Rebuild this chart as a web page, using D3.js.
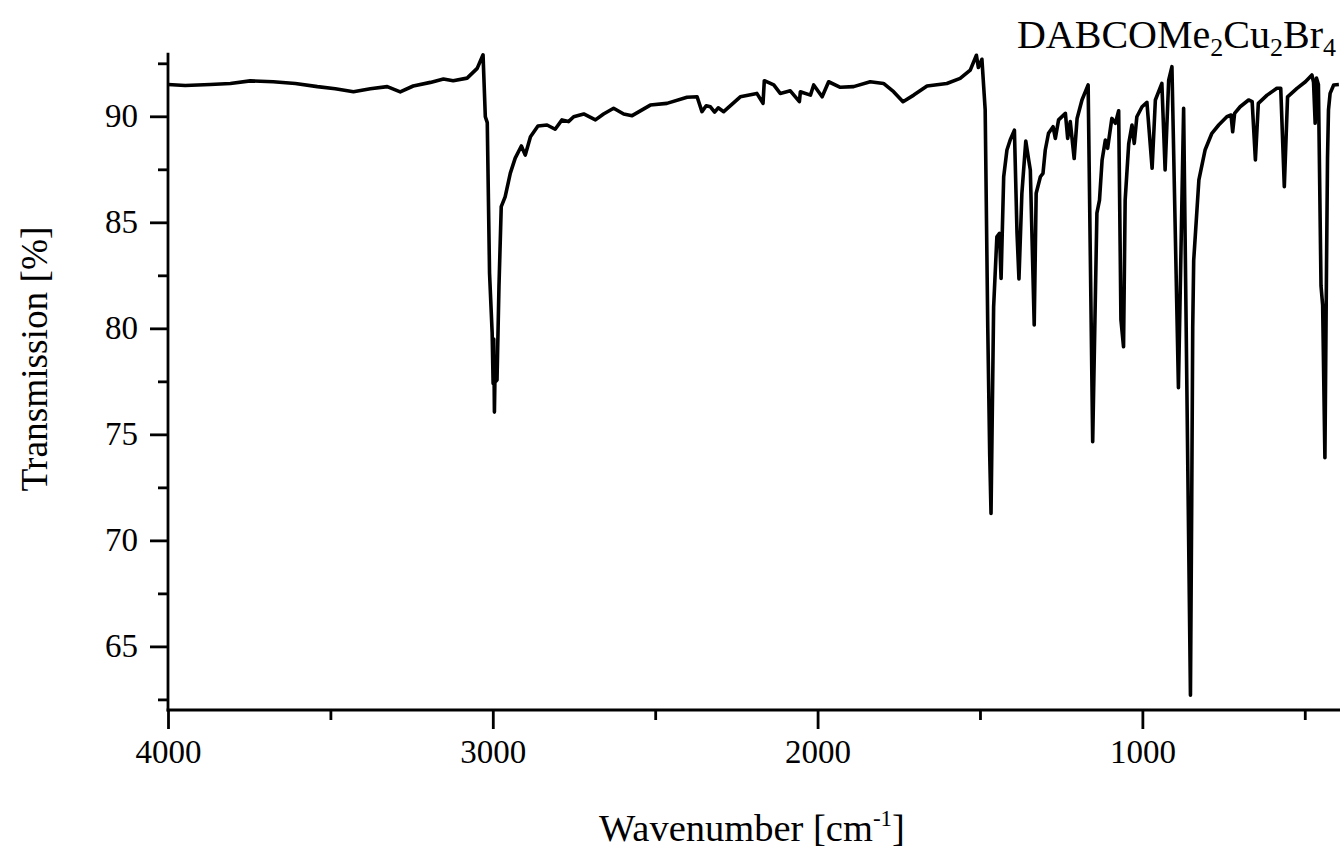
<!DOCTYPE html>
<html>
<head>
<meta charset="utf-8">
<script src="https://cdn.jsdelivr.net/npm/d3@7"></script>
<style>
  body { margin: 0; background: #fff; }
  svg { display: block; }
  text { font-family: "Liberation Serif", "Times New Roman", serif; fill: #000; }
</style>
</head>
<body>
<svg id="chart" width="1340" height="848"></svg>
<script>
// IR spectrum (wavenumber in cm-1, transmission in %)
const wavenumber = [
  4000, 3947, 3870, 3808, 3747, 3676, 3608, 3540, 3485, 3429, 3377, 3325, 3285, 3245,
  3192, 3152, 3122, 3079, 3048, 3030, 3023, 3017, 3010, 3002, 2999, 2997, 2995, 2993,
  2991, 2987, 2981, 2974, 2962, 2946, 2931, 2912, 2900, 2884, 2861, 2833, 2808, 2787,
  2767, 2751, 2720, 2684, 2659, 2628, 2597, 2571, 2515, 2464, 2402, 2371, 2356, 2343,
  2330, 2317, 2306, 2289, 2238, 2187, 2168, 2164, 2135, 2115, 2084, 2056, 2053, 2022,
  2012, 1986, 1966, 1930, 1889, 1838, 1797, 1766, 1737, 1704, 1663, 1602, 1561, 1530,
  1511, 1505, 1494, 1484, 1476, 1470, 1466, 1458, 1448, 1440, 1435, 1427, 1417, 1407,
  1394, 1386, 1380, 1371, 1359, 1350, 1345, 1333, 1327, 1314, 1306, 1299, 1289, 1275,
  1268, 1258, 1237, 1230, 1222, 1210, 1201, 1186, 1167, 1153, 1140, 1132, 1124, 1114,
  1107, 1094, 1083, 1073, 1066, 1058, 1053, 1042, 1032, 1025, 1017, 1001, 986, 970,
  960, 940, 930, 919, 909, 889, 873, 852, 848, 845, 842, 832, 826, 807, 786, 765,
  740, 727, 722, 716, 699, 673, 662, 652, 643, 616, 586, 574, 563, 553, 524, 498,
  478, 473, 468, 464, 458, 450, 445, 438, 433, 430, 427, 422, 411, 395
];
const transmission = [
  91.50, 91.45, 91.50, 91.55, 91.67, 91.63, 91.55, 91.40, 91.30, 91.16, 91.30, 91.40, 91.15, 91.43,
  91.60, 91.76, 91.68, 91.80, 92.26, 92.90, 89.98, 89.70, 82.60, 79.80, 77.40, 79.50, 76.05, 78.00,
  77.50, 77.56, 81.96, 85.74, 86.20, 87.32, 88.03, 88.60, 88.17, 89.04, 89.54, 89.59, 89.39, 89.83,
  89.75, 89.98, 90.11, 89.83, 90.11, 90.38, 90.11, 90.03, 90.53, 90.61, 90.90, 90.92, 90.22, 90.50,
  90.45, 90.20, 90.40, 90.22, 90.92, 91.08, 90.61, 91.68, 91.48, 91.08, 91.20, 90.69, 91.16, 91.00,
  91.48, 90.92, 91.63, 91.37, 91.40, 91.63, 91.55, 91.16, 90.69, 91.00, 91.43, 91.55, 91.79, 92.18,
  92.88, 92.30, 92.69, 90.30, 80.00, 74.00, 71.27, 81.00, 84.32, 84.48, 82.35, 87.15, 88.41, 88.88,
  89.35, 84.50, 82.33, 86.37, 88.83, 87.94, 87.47, 80.16, 86.37, 87.15, 87.31, 88.41, 89.20, 89.51,
  88.96, 89.83, 90.14, 88.96, 89.75, 88.01, 89.90, 90.77, 91.48, 74.65, 85.43, 86.05, 87.94, 88.88,
  88.49, 89.90, 89.67, 90.26, 80.40, 79.13, 86.05, 88.72, 89.59, 88.72, 89.98, 90.45, 90.66, 87.55,
  90.77, 91.55, 87.47, 91.71, 92.34, 77.20, 90.38, 62.70, 72.00, 80.00, 83.20, 85.57, 87.00, 88.41, 89.20, 89.59,
  89.98, 90.06, 89.27, 90.14, 90.45, 90.77, 90.69, 87.94, 90.61, 91.00, 91.32, 91.32, 86.68, 90.92, 91.32, 91.63,
  91.95, 91.60, 89.67, 91.80, 91.50, 82.00, 81.10, 73.90, 83.00, 88.00, 90.30, 91.08, 91.48, 91.50
];
const xMajorTicks = [4000, 3000, 2000, 1000];
const xMinorTicks = [3500, 2500, 1500, 500];
const yMajorTicks = [65, 70, 75, 80, 85, 90];
const yMinorTicks = [62.5, 67.5, 72.5, 77.5, 82.5, 87.5, 92.5];

const spectrum = wavenumber.map((w, i) => ({ w: w, t: transmission[i] }));

const svg = d3.select("#chart");
const mLeft = 168, mRight = 1340.5, mTop = 52.7, mBottom = 710;

const x = d3.scaleLinear().domain([4000, 390]).range([mLeft, mRight]);
const y = d3.scaleLinear().domain([62, 93]).range([mBottom, mTop]);

// minor ticks first, then major ticks with labels
svg.append("g")
  .attr("transform", `translate(0,${mBottom})`)
  .call(d3.axisBottom(x).tickValues(xMinorTicks).tickSize(10).tickFormat(""))
  .call(g => g.select(".domain").remove());
svg.append("g")
  .attr("transform", `translate(${mLeft},0)`)
  .call(d3.axisLeft(y).tickValues(yMinorTicks).tickSize(10).tickFormat(""))
  .call(g => g.select(".domain").remove());

const xAxis = svg.append("g")
  .attr("transform", `translate(0,${mBottom})`)
  .call(d3.axisBottom(x).tickValues(xMajorTicks).tickSize(19).tickPadding(11).tickFormat(d3.format("d")));
xAxis.select(".domain").remove();

const yAxis = svg.append("g")
  .attr("transform", `translate(${mLeft},0)`)
  .call(d3.axisLeft(y).tickValues(yMajorTicks).tickSize(18).tickPadding(12));
yAxis.select(".domain").remove();

svg.selectAll(".tick line").attr("stroke", "#000").attr("stroke-width", 2.8);
svg.selectAll(".tick text")
  .style("font-family", '"Liberation Serif", "Times New Roman", serif')
  .style("font-size", "33px");

// axis lines
svg.append("line").attr("x1", mLeft).attr("x2", mLeft).attr("y1", mTop).attr("y2", mBottom + 1.4)
  .attr("stroke", "#000").attr("stroke-width", 2.8);
svg.append("line").attr("x1", mLeft - 1.4).attr("x2", mRight).attr("y1", mBottom).attr("y2", mBottom)
  .attr("stroke", "#000").attr("stroke-width", 2.8);

// spectrum
const line = d3.line().x(d => x(d.w)).y(d => y(d.t));
svg.append("path")
  .datum(spectrum)
  .attr("d", line)
  .attr("fill", "none")
  .attr("stroke", "#000")
  .attr("stroke-width", 3.6)
  .attr("stroke-linejoin", "round");

// axis titles
const xt = svg.append("text")
  .attr("x", 752).attr("y", 841)
  .attr("text-anchor", "middle")
  .style("font-size", "38.5px");
xt.append("tspan").text("Wavenumber [cm");
xt.append("tspan").attr("dy", -15).style("font-size", "23px").text("-1");
xt.append("tspan").attr("dy", 15).text("]");

svg.append("text")
  .attr("transform", "translate(47,359) rotate(-90)")
  .attr("text-anchor", "middle")
  .style("font-size", "37.3px")
  .text("Transmission [%]");

// compound label
const title = svg.append("text")
  .attr("x", 1336).attr("y", 48)
  .attr("text-anchor", "end")
  .style("font-size", "40px");
[["DABCOMe", false], ["2", true], ["Cu", false], ["2", true], ["Br", false], ["4", true]]
  .forEach(([s, sub]) => {
    title.append("tspan")
      .attr("dy", sub ? 8 : -8)
      .style("font-size", sub ? "26px" : "40px")
      .text(s);
  });
title.select("tspan").attr("dy", 0);
</script>
</body>
</html>
